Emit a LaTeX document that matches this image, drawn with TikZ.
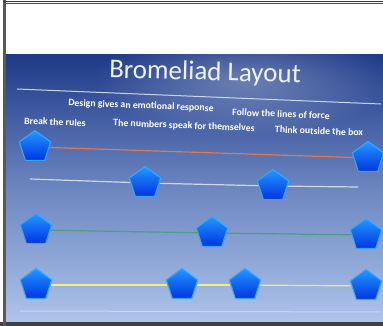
\documentclass[tikz,border=0pt]{standalone}
\usepackage{fontspec}
\setmainfont{Carlito}
\usetikzlibrary{shapes.geometric,fadings}
\definecolor{bgtop}{HTML}{1E3A88}
\definecolor{bgmid}{HTML}{6C86C0}
\definecolor{bgbot}{HTML}{AEC4EA}
\definecolor{penttop}{HTML}{2298FF}
\definecolor{pentbot}{HTML}{0034E2}
\definecolor{pentedge}{HTML}{38A6FF}
\definecolor{lorange}{HTML}{E07850}
\definecolor{lwhite}{HTML}{D0D8E6}
\definecolor{lgreen}{HTML}{4E9C84}
\definecolor{lyellow}{HTML}{EEEE78}
\definecolor{lbottom}{HTML}{C8D8F0}
\definecolor{titlecol}{HTML}{EEF2FB}
\tikzfading[name=glowfade, inner color=transparent!70, outer color=transparent!100]
\tikzset{
  pent/.style={regular polygon, regular polygon sides=5, minimum size=33pt,
    inner sep=0pt, draw=pentedge, line width=1.1pt,
    top color=penttop, bottom color=pentbot},
  lbl/.style={text=white, font=\bfseries\fontsize{9.8}{11}\selectfont, inner sep=0pt, rotate=-2.2},
  rowline/.style={line width=1.2pt},
}
\begin{document}
\begin{tikzpicture}[x=1pt,y=-1pt]
\useasboundingbox (0,0) rectangle (383,326);
\fill[white] (0,0) rectangle (383,326);
% slide background
\shade[top color=bgtop, bottom color=bgbot, middle color=bgmid] (6,55) rectangle (383,322);
\fill[white, path fading=glowfade] (245,80) ellipse (150pt and 55pt);
% frame
\fill[black!75] (0,322) rectangle (383,326);
\fill[black!65] (3,0) rectangle (6,326);
\draw[black!80, line width=0.8pt] (3,1) -- (383,1);
\draw[black!70, line width=0.8pt] (6,3.6) -- (383,3.6);
% title
\node[text=titlecol, font=\fontsize{27}{30}\selectfont, inner sep=0pt, rotate=-1.5] (title) at (205,73) {Bromeliad Layout};
\coordinate (tl0) at (17,89);
\coordinate (tl1) at (381,104);
\draw[lbottom, line width=1pt] (tl0) -- (tl1);
% labels
\node[lbl] (l1) at (141,106) {Design gives an emotional response};
\node[lbl] (l2) at (281,114) {Follow the lines of force};
\node[lbl] (l3) at (55,122) {Break the rules};
\node[lbl] (l4) at (184,126) {The numbers speak for themselves};
\node[lbl] (l5) at (319,131) {Think outside the box};
% row 1
\node[pent] (a1) at (35,147) {};
\node[pent] (a2) at (368,158) {};
\draw[rowline, lorange] (a1) -- (a2);
% row 2
\coordinate (b0) at (30,179);
\coordinate (b3) at (358,187);
\node[pent] (b1) at (145,183) {};
\node[pent] (b2) at (273,186) {};
\draw[rowline, lwhite] (b0) -- (b1);
\draw[rowline, lwhite] (b1) -- (b2);
\draw[rowline, lwhite] (b2) -- (b3);
% row 3
\node[pent] (c1) at (36,230) {};
\node[pent] (c2) at (212,233) {};
\node[pent] (c3) at (366,235) {};
\draw[rowline, lgreen] (c1) -- (c2);
\draw[rowline, lgreen] (c2) -- (c3);
% row 4
\node[pent] (d1) at (36,285) {};
\node[pent] (d2) at (182,285) {};
\node[pent] (d3) at (245,285) {};
\node[pent] (d4) at (366,286) {};
\draw[rowline, lyellow] (d1) -- (d2);
\draw[rowline, lyellow] (d2) -- (d3);
\draw[rowline, lyellow] (d3) -- (d4);
% bottom line
\coordinate (e0) at (20,311);
\coordinate (e1) at (380,312);
\draw[lbottom, line width=1pt] (e0) -- (e1);
\end{tikzpicture}
\end{document}
